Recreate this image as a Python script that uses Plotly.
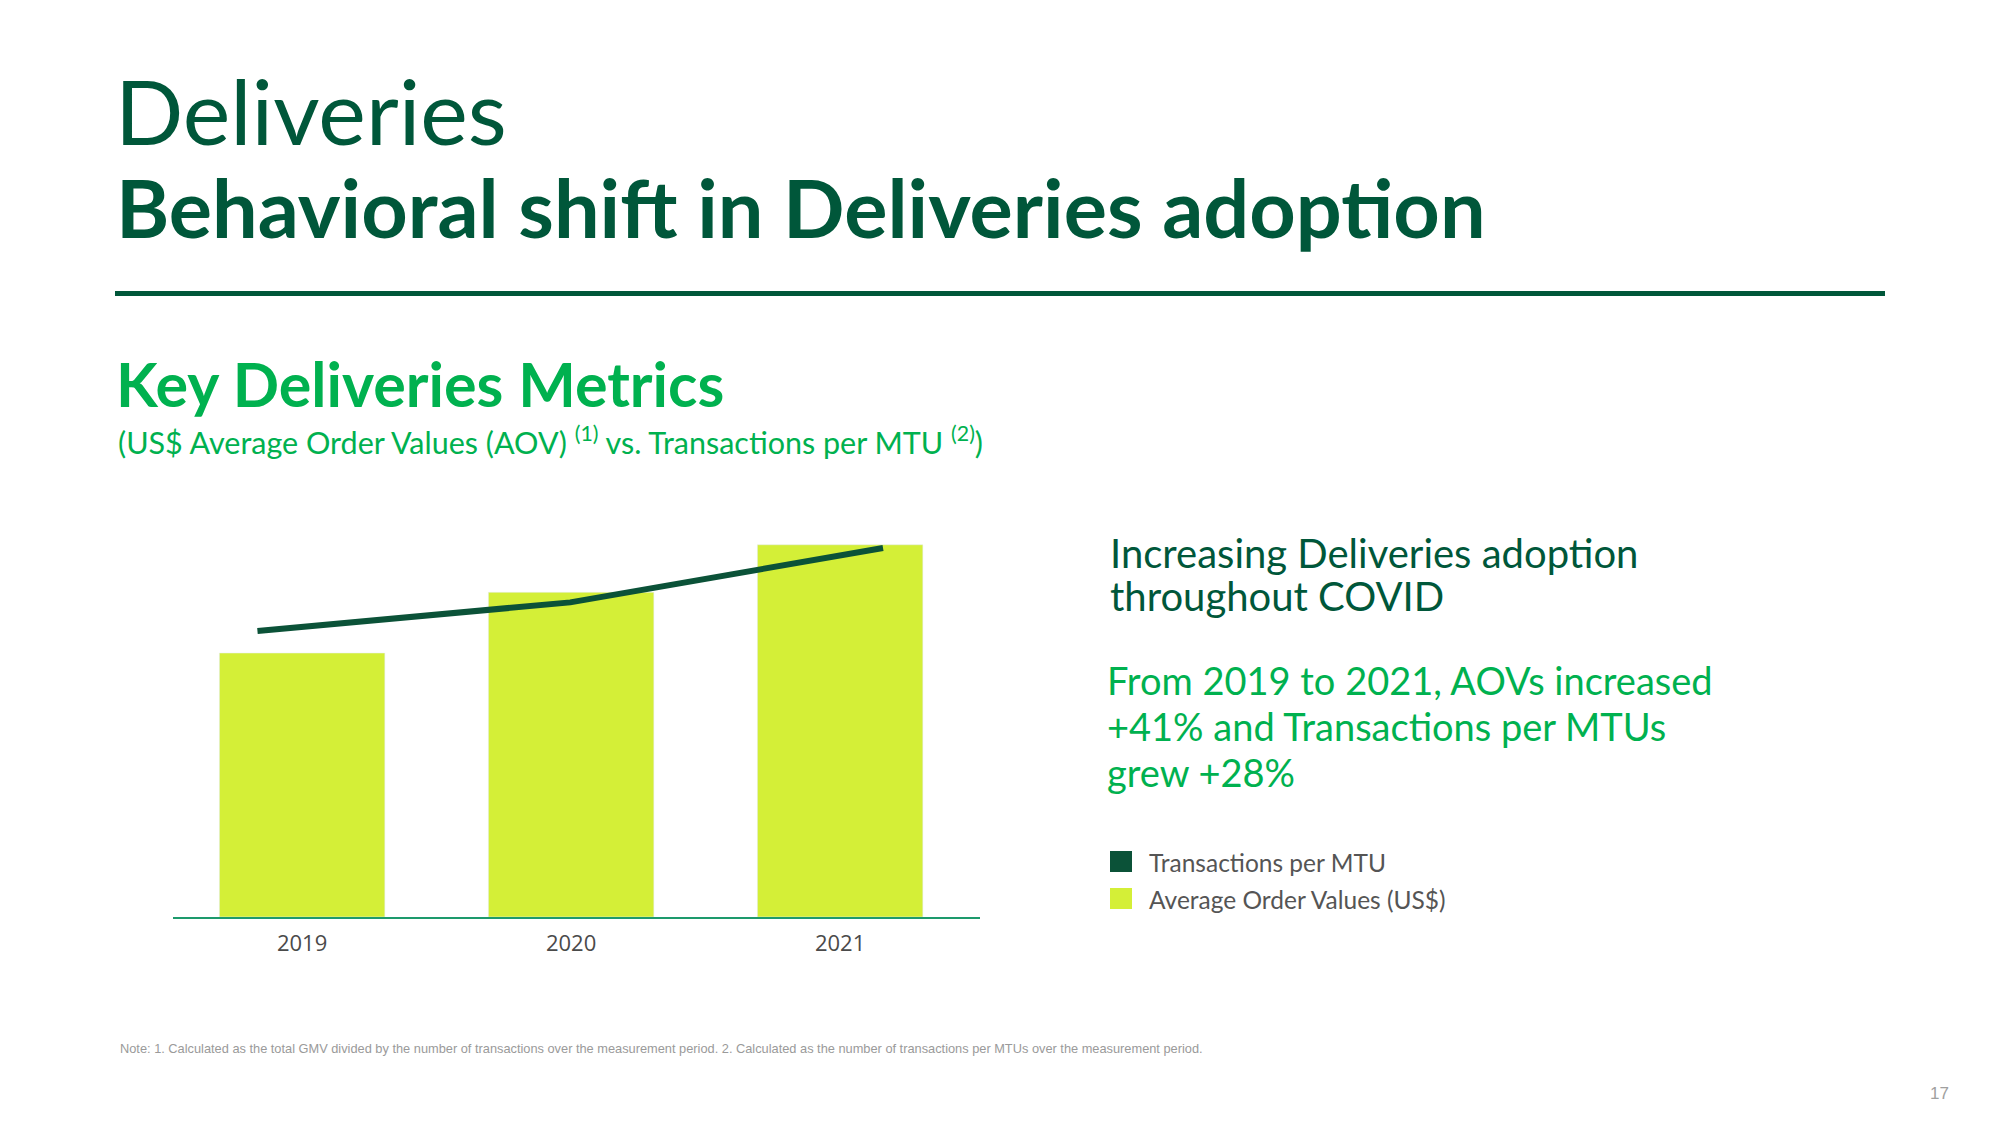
import plotly.graph_objects as go

years = ["2019", "2020", "2021"]
aov = [10.0, 12.3, 14.1]            # Average Order Values (index)
txn_per_mtu = [10.0, 11.0, 12.9]
series_names = ["Transactions per MTU", "Average Order Values (US$)"]

DARK = "#00573a"
LINE = "#0b5238"
GREEN = "#00b14f"
LIME = "#d4ef37"
W, H = 2000, 1125

def px(x):
    return x / W

def py(y):
    return 1 - y / H

fig = go.Figure()
fig.add_trace(go.Bar(x=years, y=aov, marker_color=LIME, width=0.615,
                     name=series_names[1], xaxis="x", yaxis="y", showlegend=False))
fig.add_trace(go.Scatter(x=years, y=txn_per_mtu, mode="lines",
                         line=dict(color=LINE, width=6), name=series_names[0],
                         xaxis="x2", yaxis="y2", showlegend=False, cliponaxis=False))

dom_x = [px(173), px(980)]
dom_y = [py(917), py(530)]

fig.update_layout(
    width=W, height=H, margin=dict(l=0, r=0, t=0, b=0),
    paper_bgcolor="white", plot_bgcolor="white",
    font=dict(family="Lato, Noto Sans, sans-serif"),
    xaxis=dict(domain=dom_x, type="category", categoryarray=years, range=[-0.48, 2.52],
               showline=True, linecolor="#1d9a6c", linewidth=1.5, ticks="",
               showgrid=False, zeroline=False, ticklabelstandoff=6,
               tickfont=dict(family="Open Sans, sans-serif", size=22, color="#4a4a4a")),
    xaxis2=dict(domain=dom_x, type="category", categoryarray=years, range=[-0.27, 2.31],
                overlaying="x", visible=False),
    yaxis=dict(domain=dom_y, range=[0, 14.66], visible=False, showgrid=False),
    yaxis2=dict(domain=dom_y, range=[0, 13.53], overlaying="y", visible=False),
    hovermode=False,
)

shapes = [
    dict(type="rect", xref="paper", yref="paper", x0=px(115), x1=px(1885), y0=py(296), y1=py(291),
         fillcolor=DARK, line=dict(width=0)),
    dict(type="rect", xref="paper", yref="paper", x0=px(1110), x1=px(1132), y0=py(872), y1=py(851),
         fillcolor=LINE, line=dict(width=0)),
    dict(type="rect", xref="paper", yref="paper", x0=px(1110), x1=px(1132), y0=py(909), y1=py(888),
         fillcolor=LIME, line=dict(width=0)),
]
fig.update_layout(shapes=shapes)

def ann(text, x, y, size, color, family="Lato, sans-serif", **kw):
    fig.add_annotation(text=text, x=px(x), y=py(y), xref="paper", yref="paper",
                       xanchor="left", yanchor="middle", showarrow=False, align="left",
                       font=dict(size=size, color=color, family=family), **kw)

ann("Deliveries", 113, 110, 90, DARK)
ann("<b>Behavioral shift in Deliveries adoption</b>", 114, 206, 81, DARK)
ann("<b>Key Deliveries Metrics</b>", 114, 383, 61, GREEN)
ann("(US$ Average Order Values (AOV) <sup>(1)</sup> vs. Transactions per MTU <sup>(2)</sup>)",
    116, 440, 30.5, GREEN)
ann("Increasing Deliveries adoption", 1108, 553, 40, DARK)
ann("throughout COVID", 1108, 596, 40, DARK)
ann("From 2019 to 2021, AOVs increased", 1105, 680, 38, GREEN)
ann("+41% and Transactions per MTUs", 1105, 726, 38, GREEN)
ann("grew +28%", 1105, 772, 38, GREEN)
ann(series_names[0], 1147, 862, 24.5, "#555555")
ann(series_names[1], 1147, 899, 24.5, "#555555")
ann("Note: 1. Calculated as the total GMV divided by the number of transactions over the measurement period. "
    "2. Calculated as the number of transactions per MTUs over the measurement period.",
    118, 1048, 12.8, "#9a9a9a", family="Liberation Sans Narrow, Liberation Sans, sans-serif")
ann("17", 1928, 1093, 17, "#a0a0a0", family="Liberation Sans, sans-serif")

fig.write_html("out.html", config={"displayModeBar": False},
               post_script="document.body.style.margin='0';document.body.style.overflow='hidden';")
